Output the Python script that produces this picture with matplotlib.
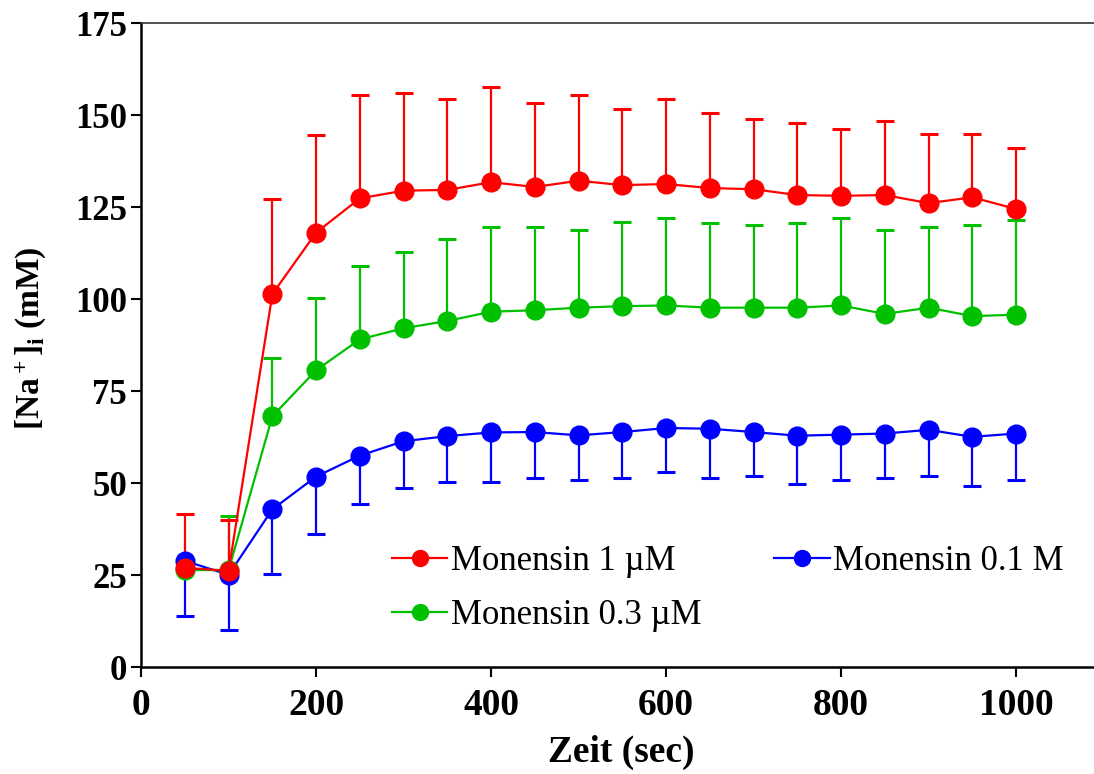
import numpy as np
import matplotlib
matplotlib.use("Agg")
import matplotlib.pyplot as plt

plt.rcParams['font.family'] = ['Liberation Serif', 'DejaVu Serif']
plt.rcParams['mathtext.fontset'] = 'custom'
plt.rcParams['mathtext.rm'] = 'Liberation Serif:bold'
plt.rcParams['mathtext.bf'] = 'Liberation Serif:bold'
plt.rcParams['mathtext.it'] = 'Liberation Serif:bold'

# Zeitpunkte (sec)
zeit = [50, 100, 150, 200, 250, 300, 350, 400, 450, 500,
        550, 600, 650, 700, 750, 800, 850, 900, 950, 1000]

# Monensin 1 uM: Mittelwert und SEM (nach oben)
na_1um = [27.0, 26.2, 101.4, 118.1, 127.4, 129.5, 129.7, 131.8, 130.5, 132.2,
          131.0, 131.3, 130.2, 129.9, 128.3, 128.1, 128.3, 126.1, 127.7, 124.5]
sem_1um = [14.6, 13.8, 25.7, 26.4, 28.0, 26.5, 24.7, 25.8, 22.8, 23.3,
           20.7, 23.0, 20.4, 19.0, 19.6, 18.1, 20.1, 18.9, 17.3, 16.7]

# Monensin 0.3 uM
na_03um = [26.4, 26.4, 68.2, 80.7, 89.1, 92.1, 94.1, 96.6, 97.0, 97.7,
           98.1, 98.3, 97.7, 97.7, 97.7, 98.3, 96.0, 97.7, 95.4, 95.8]
sem_03um = [0.5, 14.7, 15.9, 19.7, 20.0, 20.8, 22.2, 22.9, 22.5, 21.2,
            23.0, 23.9, 22.9, 22.4, 22.9, 23.9, 22.9, 21.8, 24.7, 25.8]

# Monensin 0.1 uM: SEM nach unten
na_01um = [28.9, 25.1, 42.9, 51.8, 57.5, 61.4, 62.8, 63.8, 63.9, 63.0,
           63.9, 65.0, 64.8, 63.9, 62.9, 63.2, 63.5, 64.5, 62.6, 63.5]
sem_01um = [15.0, 15.0, 17.7, 15.7, 13.2, 12.7, 12.4, 13.4, 12.5, 12.1,
            12.5, 12.0, 13.4, 12.0, 13.1, 12.3, 12.1, 12.6, 13.4, 12.6]

fig = plt.figure(figsize=(10.94, 7.74), dpi=100)
ax = fig.add_axes([0.129, 0.138, 0.871, 0.832])

stil = dict(marker='o', markersize=13.5, linewidth=1.6, elinewidth=1.6,
            capsize=6.5, capthick=2.2)

zero = np.zeros(len(zeit))
h_blau = ax.errorbar(zeit, na_01um, yerr=[sem_01um, zero], color='#0000ff', **stil)
h_gruen = ax.errorbar(zeit, na_03um, yerr=[zero, sem_03um], color='#00c000', **stil)
h_rot = ax.errorbar(zeit, na_1um, yerr=[zero, sem_1um], color='#ff0000', **stil)

ax.set_xlim(0, 1089)
ax.set_ylim(0, 175)
ax.set_xticks([0, 200, 400, 600, 800, 1000])
ax.set_yticks([0, 25, 50, 75, 100, 125, 150, 175])

for side in ['left', 'bottom']:
    ax.spines[side].set_linewidth(1.8)
ax.spines['right'].set_visible(False)
ax.spines['top'].set_linewidth(1.2)
ax.spines['top'].set_color('#333333')

ax.tick_params(axis='both', direction='out', length=7, width=1.5)
ax.tick_params(axis='y', labelsize=25, pad=3)
ax.tick_params(axis='x', labelsize=27, pad=8)
for lab in ax.get_xticklabels() + ax.get_yticklabels():
    lab.set_fontweight('bold')

ax.set_xlabel('Zeit (sec)', fontsize=27, fontweight='bold')
ax.xaxis.set_label_coords(0.504, -0.105)
ax.set_ylabel(r'[Na$^+$]$_\mathrm{i}$ (mM)', fontsize=24, fontweight='bold')
ax.yaxis.set_label_coords(-0.098, 0.51)

# Legende nur mit Linie + Marker, ohne Fehlerbalken
leg = ax.legend([h_rot[0], h_gruen[0], h_blau[0]],
                ['Monensin 1 µM', 'Monensin 0.3 µM', 'Monensin 0.1 M'],
                ncol=2, loc='upper left', bbox_to_anchor=(0.263, 0.19),
                frameon=False, fontsize=25, borderpad=0, borderaxespad=0,
                handlelength=1.6, handletextpad=0.1, columnspacing=2.1,
                labelspacing=0.6, markerscale=0.85)

fig.savefig('out.png', dpi=100)
